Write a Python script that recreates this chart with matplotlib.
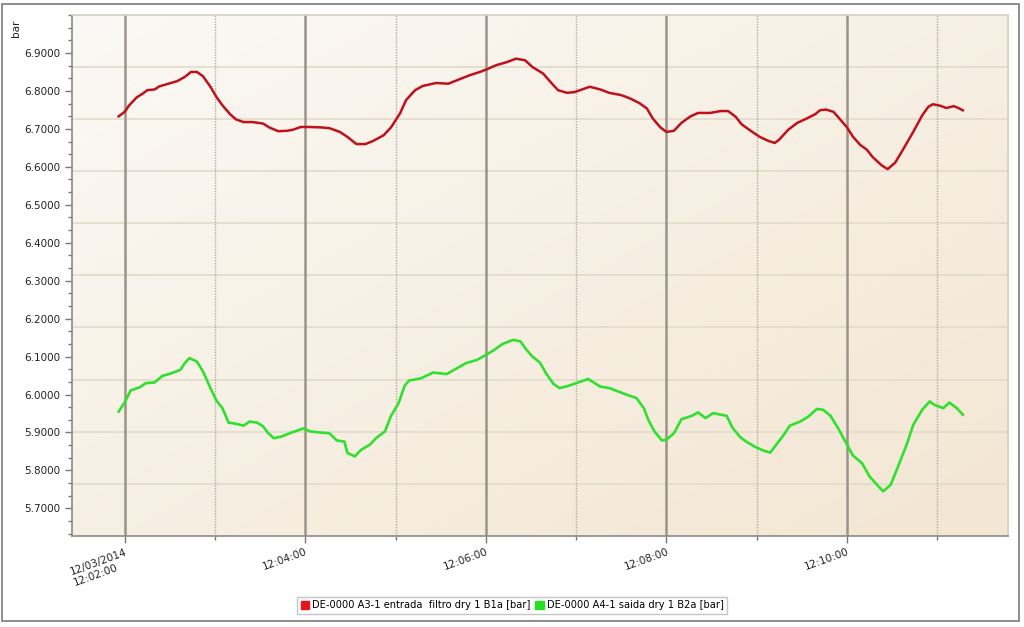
import numpy as np
import pandas as pd
import matplotlib
matplotlib.use("Agg")
import matplotlib.pyplot as plt
import matplotlib.dates as mdates
from matplotlib.colors import LinearSegmentedColormap
from matplotlib.ticker import AutoMinorLocator, FixedLocator
from matplotlib.patches import Rectangle, Patch

# seconds after 12/03/2014 12:02:00, values in bar
red_t = [-4, 0, 3, 8, 12, 15, 20, 23, 29, 35, 40, 44, 48, 52, 57, 61, 65, 70, 74, 79,
         85, 92, 96, 102, 108, 112, 117, 123, 130, 136, 143, 148, 154, 160, 165, 172, 177,
         183, 187, 193, 198, 207, 215, 222, 229, 236, 240, 247, 254, 260, 266, 271, 278,
         284, 288, 294, 299, 304, 309, 316, 322, 330, 336, 342, 347, 351, 356, 360, 365,
         370, 376, 381, 389, 396, 401, 406, 410, 416, 422, 428, 432, 435, 441, 447, 453,
         459, 462, 466, 471, 475, 480, 484, 489, 493, 497, 503, 507, 512, 517, 524, 530,
         534, 537, 542, 546, 551, 554, 557]
red_v = [6.733, 6.745, 6.762, 6.783, 6.793, 6.802, 6.804, 6.812, 6.819, 6.826, 6.837,
         6.850, 6.850, 6.839, 6.811, 6.784, 6.762, 6.739, 6.725, 6.718, 6.718, 6.714,
         6.704, 6.694, 6.695, 6.698, 6.705, 6.705, 6.704, 6.702, 6.692, 6.679, 6.660,
         6.660, 6.668, 6.683, 6.704, 6.741, 6.776, 6.802, 6.813, 6.821, 6.819, 6.830,
         6.841, 6.850, 6.856, 6.868, 6.876, 6.885, 6.881, 6.863, 6.846, 6.819, 6.802,
         6.795, 6.797, 6.804, 6.811, 6.804, 6.795, 6.789, 6.780, 6.768, 6.754, 6.727,
         6.704, 6.692, 6.695, 6.716, 6.733, 6.742, 6.742, 6.747, 6.747, 6.732, 6.712,
         6.695, 6.679, 6.668, 6.663, 6.672, 6.698, 6.716, 6.727, 6.739, 6.749, 6.751,
         6.745, 6.727, 6.704, 6.679, 6.657, 6.646, 6.626, 6.604, 6.594, 6.611, 6.644,
         6.692, 6.736, 6.758, 6.765, 6.761, 6.755, 6.760, 6.755, 6.749]

green_t = [-4, 0, 4, 10, 14, 20, 25, 31, 37, 40, 43, 48, 52, 57, 61, 65, 69, 74, 79, 83,
           88, 92, 95, 99, 104, 111, 119, 123, 130, 136, 141, 146, 148, 153, 157, 163, 167,
           173, 177, 182, 186, 189, 192, 197, 205, 214, 222, 227, 234, 239, 245, 251, 258,
           263, 267, 271, 276, 280, 285, 289, 295, 300, 308, 316, 322, 328, 334, 340, 345,
           348, 352, 357, 360, 365, 370, 377, 381, 386, 391, 400, 404, 409, 413, 419, 424,
           429, 433, 438, 442, 449, 454, 460, 464, 469, 474, 480, 484, 490, 495, 500, 504,
           509, 514, 520, 524, 530, 535, 538, 544, 548, 553, 557]
green_v = [5.955, 5.979, 6.011, 6.019, 6.030, 6.032, 6.049, 6.056, 6.065, 6.083, 6.096,
           6.087, 6.061, 6.017, 5.984, 5.964, 5.926, 5.923, 5.918, 5.929, 5.926, 5.916,
           5.900, 5.885, 5.889, 5.900, 5.911, 5.903, 5.900, 5.898, 5.879, 5.876, 5.846,
           5.837, 5.854, 5.868, 5.885, 5.903, 5.944, 5.977, 6.023, 6.037, 6.039, 6.043,
           6.058, 6.054, 6.072, 6.083, 6.091, 6.102, 6.116, 6.133, 6.144, 6.140, 6.118,
           6.100, 6.084, 6.056, 6.028, 6.017, 6.023, 6.030, 6.041, 6.021, 6.017, 6.008,
           5.999, 5.991, 5.964, 5.933, 5.903, 5.879, 5.881, 5.898, 5.935, 5.944, 5.953,
           5.938, 5.951, 5.944, 5.912, 5.888, 5.876, 5.862, 5.853, 5.847, 5.868, 5.894,
           5.918, 5.929, 5.941, 5.962, 5.960, 5.944, 5.912, 5.868, 5.839, 5.819, 5.784,
           5.762, 5.745, 5.762, 5.811, 5.872, 5.920, 5.960, 5.982, 5.973, 5.964, 5.979,
           5.964, 5.947]

series_names = ["DE-0000 A3-1 entrada  filtro dry 1 B1a [bar]",
                "DE-0000 A4-1 saida dry 1 B2a [bar]"]
xtick_times = ["12:02:00", "12:04:00", "12:06:00", "12:08:00", "12:10:00"]
xtick_labels = ["12/03/2014\n12:02:00", "12:04:00", "12:06:00", "12:08:00", "12:10:00"]
ytick_vals = [5.7, 5.8, 5.9, 6.0, 6.1, 6.2, 6.3, 6.4, 6.5, 6.6, 6.7, 6.8, 6.9]

t0 = pd.Timestamp("2014-03-12 12:02:00")
red_x = t0 + pd.to_timedelta(red_t, unit="s")
green_x = t0 + pd.to_timedelta(green_t, unit="s")

fig = plt.figure(figsize=(10.24, 6.27), dpi=100)
fig.patch.set_facecolor("white")
fig.patches.append(Rectangle((0.002, 0.01), 0.993, 0.983, transform=fig.transFigure,
                             fill=False, edgecolor="#7a7a7a", linewidth=1.2))

ax = fig.add_axes([0.0703, 0.1456, 0.9141, 0.8304])
ylo, yhi = 5.628, 7.0
ax.set_ylim(ylo, yhi)
ax.set_xlim(t0 - pd.Timedelta(seconds=35), t0 + pd.Timedelta(seconds=587))

# beige diagonal gradient background
cmap = LinearSegmentedColormap.from_list("bg", ["#fbf9f5", "#f3e6d2"])
gx, gy = np.meshgrid(np.linspace(0, 1, 200), np.linspace(0, 1, 200))
ax.imshow((gx + gy) / 2, cmap=cmap, extent=[0, 1, 0, 1], transform=ax.transAxes,
          aspect="auto", zorder=0, origin="upper")

# horizontal grid splits the plot into 10 bands
for f in np.linspace(0.1, 0.9, 9):
    ax.axhline(ylo + f * (yhi - ylo), color="#e4dccc", lw=1.3, zorder=1)

tick_pos = [pd.Timestamp("2014-03-12 " + s) for s in xtick_times]
ax.xaxis.set_major_locator(FixedLocator(mdates.date2num(tick_pos)))
ax.xaxis.set_minor_locator(mdates.MinuteLocator(byminute=range(1, 60, 2)))
ax.set_xticklabels(xtick_labels, rotation=20, ha="right", va="top",
                   rotation_mode="anchor", multialignment="left",
                   fontsize=7.5, color="#222222")
ax.grid(True, axis="x", which="major", color="#9a948a", lw=1.8, zorder=1)
ax.grid(True, axis="x", which="minor", color="#b0aaa0", lw=1.0, ls=(0, (1, 1)), zorder=1)

ax.set_yticks(ytick_vals)
ax.set_yticklabels([f"{v:.4f}" for v in ytick_vals], fontsize=7.5, color="#222222")
ax.yaxis.set_minor_locator(AutoMinorLocator(3))

ax.tick_params(axis="both", which="major", color="#777777", length=5, width=1)
ax.tick_params(axis="y", which="minor", color="#777777", length=3, width=1)
ax.tick_params(axis="x", which="minor", color="#777777", length=3, width=1)
ax.tick_params(axis="x", pad=3)

for side in ["left", "bottom"]:
    ax.spines[side].set_color("#8a8a8a")
    ax.spines[side].set_linewidth(1.2)
for side in ["top", "right"]:
    ax.spines[side].set_color("#d6cfc2")
    ax.spines[side].set_linewidth(1.2)

ax.plot(red_x, red_v, color="#c0101c", lw=1.8, zorder=3, label=series_names[0])
ax.plot(green_x, green_v, color="#2fe02f", lw=1.9, zorder=3, label=series_names[1])

fig.text(0.011, 0.955, "bar", rotation=90, fontsize=7.5, color="#222222", va="center")

handles = [Patch(facecolor="#e8141c", edgecolor="#e8141c"),
           Patch(facecolor="#22e022", edgecolor="#22e022")]
fig.legend(handles, series_names, loc="center", bbox_to_anchor=(0.5, 0.0345), ncol=2,
           fontsize=7.1, frameon=True, fancybox=False, edgecolor="#b8b8b8",
           handlelength=0.9, handleheight=0.9, handletextpad=0.3, columnspacing=0.4,
           borderpad=0.35, borderaxespad=0)

fig.savefig("out.png", dpi=100, facecolor="white")
